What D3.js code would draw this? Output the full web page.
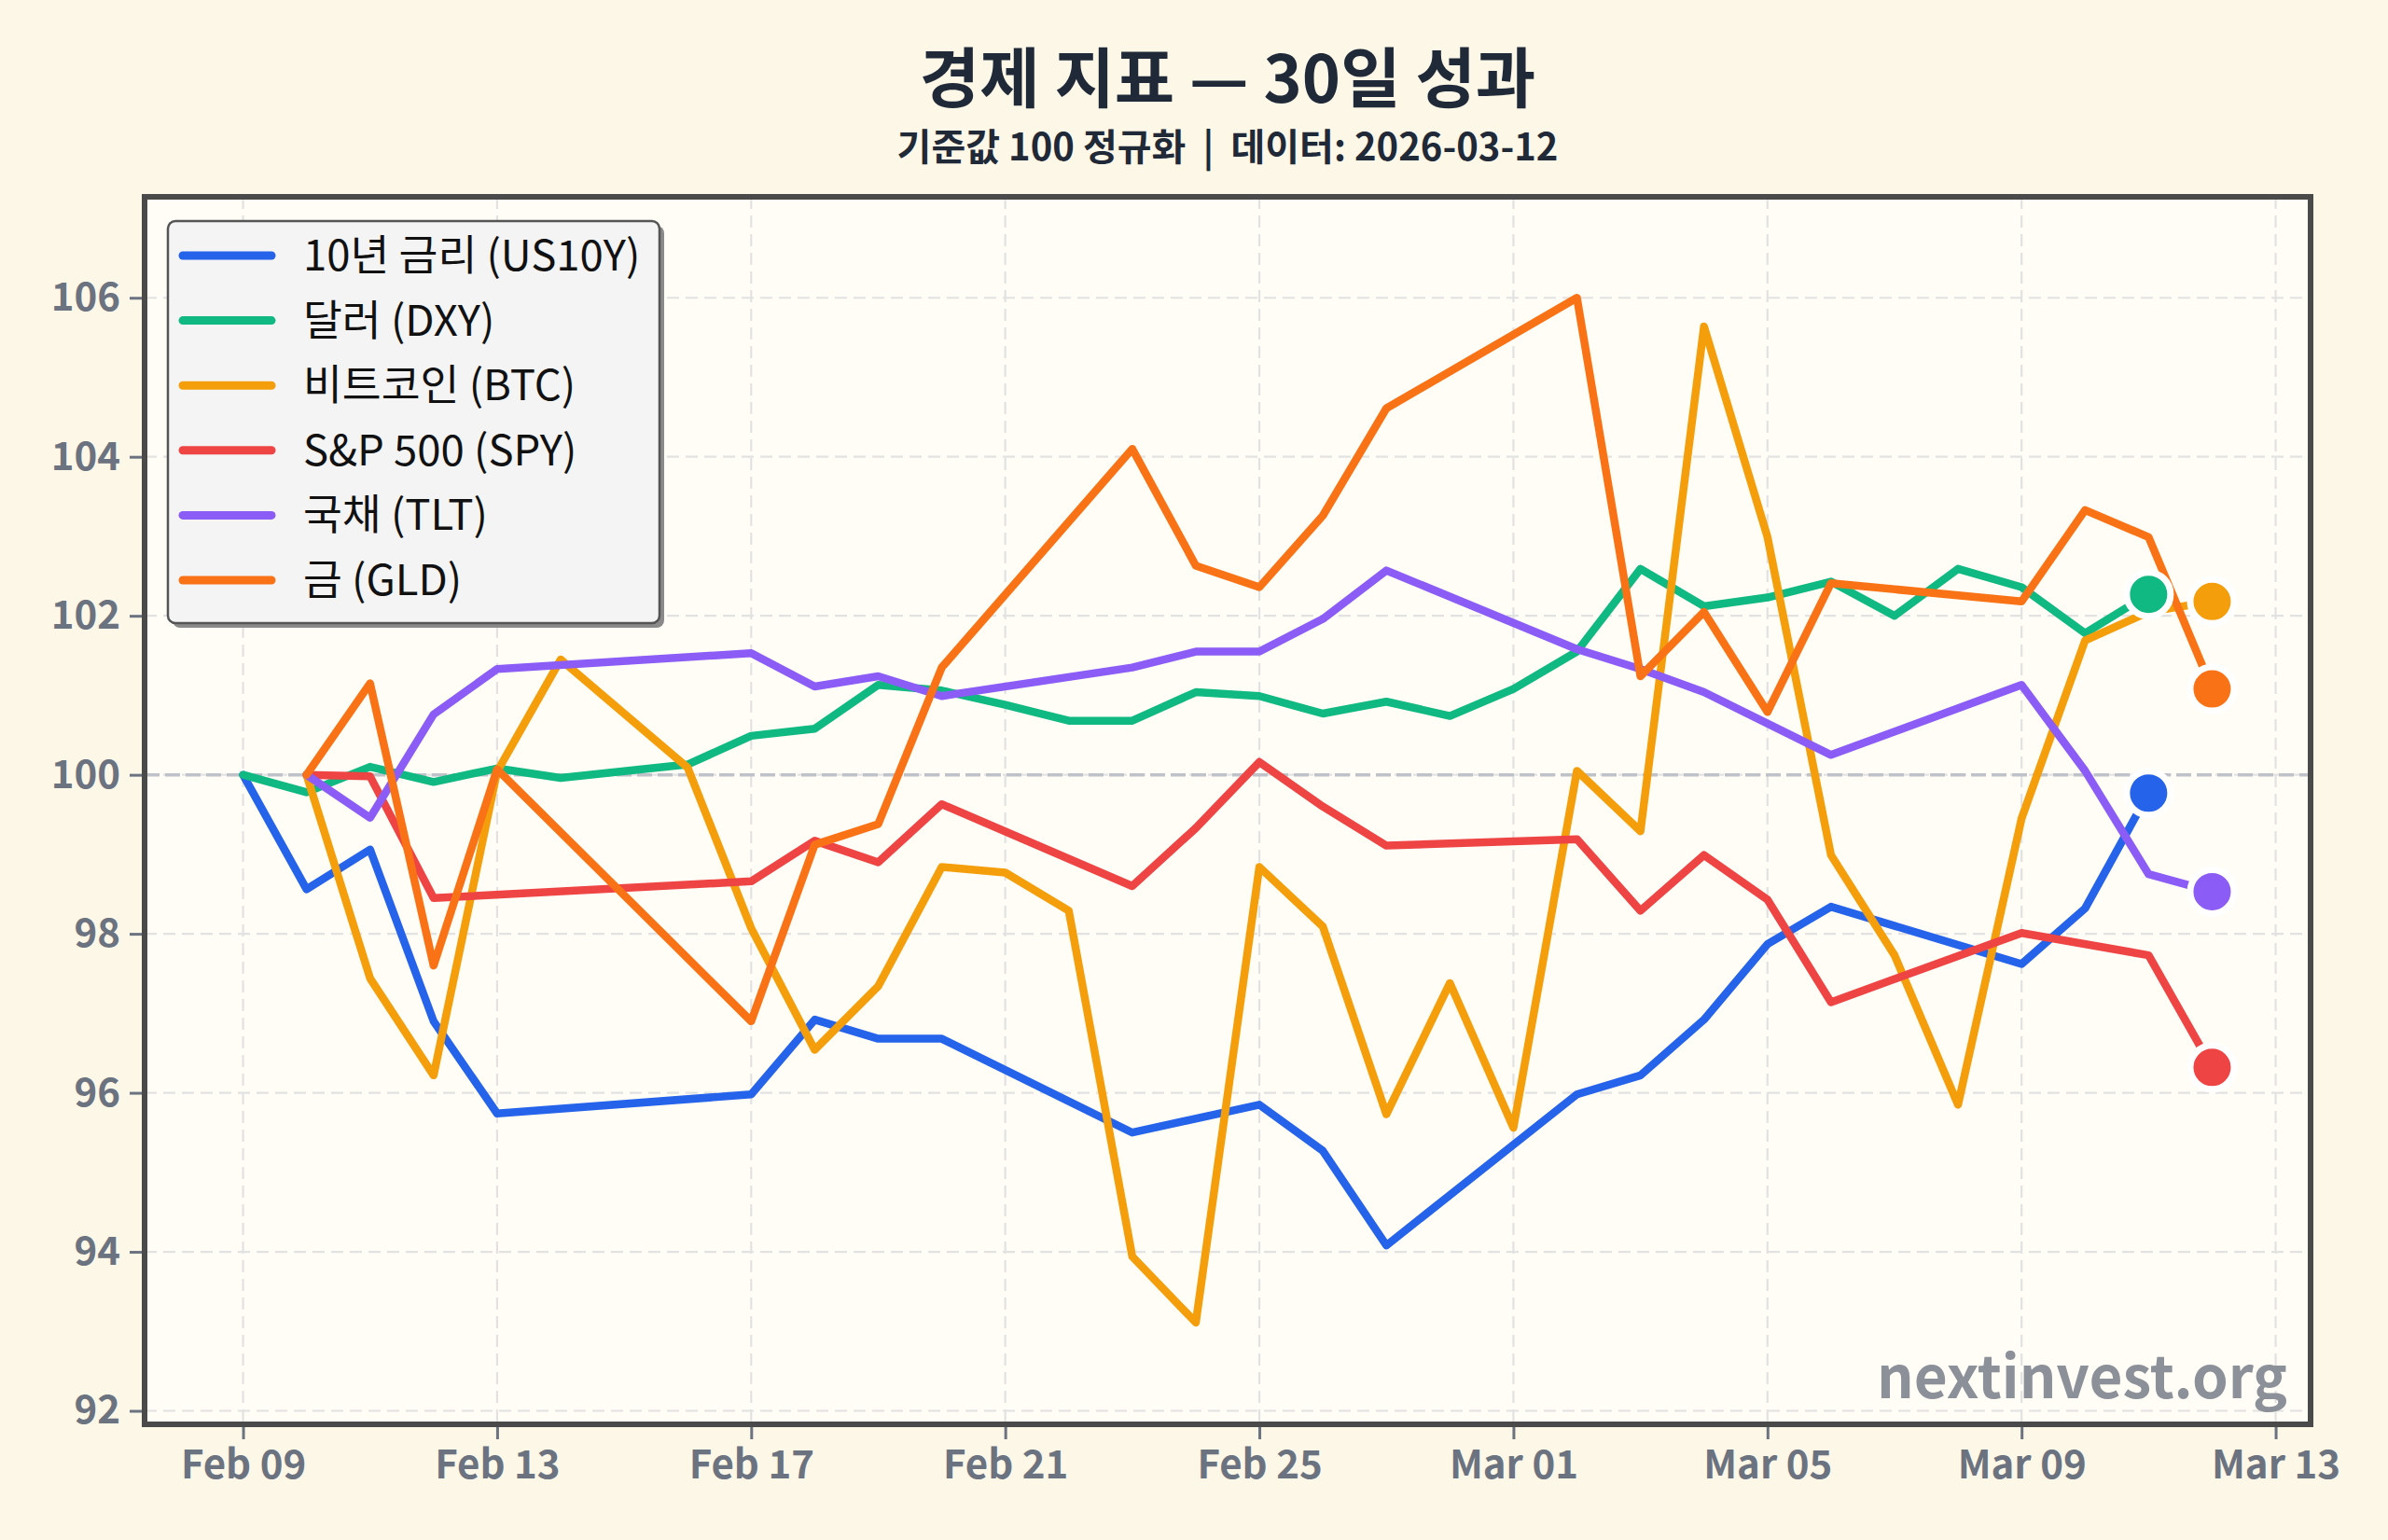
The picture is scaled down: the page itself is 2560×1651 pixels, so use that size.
<!DOCTYPE html>
<html>
<head>
<meta charset="utf-8">
<script src="https://d3js.org/d3.v7.min.js"></script>
<style>
body { margin: 0; background: #fdf7e7; }
text { font-family: "Noto Sans CJK KR", "Noto Sans", sans-serif; }
</style>
</head>
<body>
<script>
// economic indicators, normalised to 100

var us10yDates = ["02-09","02-10","02-11","02-12","02-13","02-17","02-18","02-19","02-20","02-23","02-25","02-26","02-27","03-02","03-03","03-04","03-05","03-06","03-09","03-10","03-11"];
var us10yValues = [100, 98.56, 99.06, 96.9, 95.74, 95.98, 96.92, 96.68, 96.68, 95.5, 95.85, 95.27, 94.08, 95.98, 96.22, 96.92, 97.87, 98.34, 97.62, 98.32, 99.77];

var dxyDates = ["02-09","02-10","02-11","02-12","02-13","02-14","02-16","02-17","02-18","02-19","02-20","02-21","02-22","02-23","02-24","02-25","02-26","02-27","02-28","03-01","03-02","03-03","03-04","03-05","03-06","03-07","03-08","03-09","03-10","03-11"];
var dxyValues = [100, 99.78, 100.1, 99.91, 100.08, 99.96, 100.13, 100.49, 100.58, 101.13, 101.06, 100.88, 100.68, 100.68, 101.04, 100.99, 100.77, 100.92, 100.74, 101.08, 101.55, 102.59, 102.12, 102.23, 102.43, 102.0, 102.59, 102.36, 101.78, 102.27];

var btcDates = ["02-10","02-11","02-12","02-13","02-14","02-16","02-17","02-18","02-19","02-20","02-21","02-22","02-23","02-24","02-25","02-26","02-27","02-28","03-01","03-02","03-03","03-04","03-05","03-06","03-07","03-08","03-09","03-10","03-11","03-12"];
var btcValues = [100, 97.44, 96.22, 100.04, 101.45, 100.09, 98.07, 96.54, 97.34, 98.84, 98.77, 98.29, 93.94, 93.11, 98.84, 98.09, 95.73, 97.38, 95.56, 100.05, 99.29, 105.64, 102.99, 98.99, 97.73, 95.85, 99.45, 101.69, 102.05, 102.18];

var spyDates = ["02-10","02-11","02-12","02-17","02-18","02-19","02-20","02-23","02-24","02-25","02-26","02-27","03-02","03-03","03-04","03-05","03-06","03-09","03-11","03-12"];
var spyValues = [100, 99.98, 98.45, 98.66, 99.17, 98.9, 99.63, 98.6, 99.33, 100.16, 99.6, 99.11, 99.19, 98.29, 98.99, 98.43, 97.14, 98.01, 97.73, 96.32];

var tltDates = ["02-10","02-11","02-12","02-13","02-17","02-18","02-19","02-20","02-23","02-24","02-25","02-26","02-27","03-02","03-03","03-04","03-06","03-09","03-10","03-11","03-12"];
var tltValues = [100, 99.46, 100.76, 101.33, 101.53, 101.11, 101.24, 100.99, 101.35, 101.55, 101.55, 101.96, 102.57, 101.58, 101.33, 101.04, 100.25, 101.13, 100.05, 98.75, 98.53];

var gldDates = ["02-10","02-11","02-12","02-13","02-17","02-18","02-19","02-20","02-23","02-24","02-25","02-26","02-27","03-02","03-03","03-04","03-05","03-06","03-09","03-10","03-11","03-12"];
var gldValues = [100, 101.15, 97.6, 100.07, 96.9, 99.12, 99.38, 101.35, 104.1, 102.63, 102.36, 103.26, 104.61, 106.0, 101.24, 102.05, 100.79, 102.41, 102.18, 103.33, 102.99, 101.08];

var seriesNames = ["10년 금리 (US10Y)", "달러 (DXY)", "비트코인 (BTC)", "S&P 500 (SPY)", "국채 (TLT)", "금 (GLD)"];
var seriesColors = ["#2563eb", "#10b981", "#f59e0b", "#ef4444", "#8b5cf6", "#f97316"];

var xTickDates = ["02-09","02-13","02-17","02-21","02-25","03-01","03-05","03-09","03-13"];
var yTickValues = [92, 94, 96, 98, 100, 102, 104, 106];

var titleText = "경제 지표 — 30일 성과";
var subtitleText = "기준값 100 정규화  |  데이터: 2026-03-12";
var watermarkText = "nextinvest.org";

// helpers
var parseDay = function(s){ return new Date(Date.UTC(2026, +s.slice(0,2) - 1, +s.slice(3,5))); };

var allDates = [us10yDates, dxyDates, btcDates, spyDates, tltDates, gldDates];
var allValues = [us10yValues, dxyValues, btcValues, spyValues, tltValues, gldValues];
var series = seriesNames.map(function(n, i){
  return {
    name: n,
    color: seriesColors[i],
    points: allDates[i].map(function(d, j){ return {date: parseDay(d), value: allValues[i][j]}; })
  };
});

var W = 2560, H = 1651;
var plot = {left: 155, top: 211, right: 2477, bottom: 1527};

var svg = d3.select("body").append("svg")
  .attr("width", W)
  .attr("height", H)
  .style("display", "block");

svg.append("rect").attr("width", W).attr("height", H).attr("fill", "#fdf7e7");

// scales (5% padding on x like the original)
var first = parseDay("02-09"), last = parseDay("03-12");
var xPad = (last - first) * 0.05;
var x = d3.scaleUtc()
  .domain([new Date(+first - xPad), new Date(+last + xPad)])
  .range([plot.left, plot.right]);
var y = d3.scaleLinear()
  .domain([91.83, 107.27])
  .range([plot.bottom, plot.top]);

// plot background
svg.append("rect")
  .attr("x", plot.left).attr("y", plot.top)
  .attr("width", plot.right - plot.left).attr("height", plot.bottom - plot.top)
  .attr("fill", "#fffdf6");

svg.append("clipPath").attr("id", "clip")
  .append("rect")
  .attr("x", plot.left).attr("y", plot.top)
  .attr("width", plot.right - plot.left).attr("height", plot.bottom - plot.top);

// grid
var grid = svg.append("g").attr("clip-path", "url(#clip)");
grid.selectAll(".vgrid")
  .data(xTickDates.map(parseDay))
  .enter().append("line")
  .attr("x1", function(d){ return x(d); }).attr("x2", function(d){ return x(d); })
  .attr("y1", plot.top).attr("y2", plot.bottom)
  .attr("stroke", "#e2e2e2").attr("stroke-width", 2.2).attr("stroke-dasharray", "13,7");
grid.selectAll(".hgrid")
  .data(yTickValues)
  .enter().append("line")
  .attr("x1", plot.left).attr("x2", plot.right)
  .attr("y1", function(d){ return y(d); }).attr("y2", function(d){ return y(d); })
  .attr("stroke", "#e2e2e2").attr("stroke-width", 2.2).attr("stroke-dasharray", "13,7");

// baseline 100
grid.append("line")
  .attr("x1", plot.left).attr("x2", plot.right)
  .attr("y1", y(100)).attr("y2", y(100))
  .attr("stroke", "#bfc2c8").attr("stroke-width", 3.5).attr("stroke-dasharray", "16,6");

// lines
var line = d3.line()
  .x(function(d){ return x(d.date); })
  .y(function(d){ return y(d.value); });

var lines = svg.append("g").attr("clip-path", "url(#clip)");
lines.selectAll("path")
  .data(series)
  .enter().append("path")
  .attr("d", function(s){ return line(s.points); })
  .attr("fill", "none")
  .attr("stroke", function(s){ return s.color; })
  .attr("stroke-width", 8.5)
  .attr("stroke-linejoin", "round")
  .attr("stroke-linecap", "round");

// end markers
lines.selectAll("circle")
  .data(series)
  .enter().append("circle")
  .attr("cx", function(s){ return x(s.points[s.points.length-1].date); })
  .attr("cy", function(s){ return y(s.points[s.points.length-1].value); })
  .attr("r", 23.5)
  .attr("fill", function(s){ return s.color; })
  .attr("stroke", "white")
  .attr("stroke-width", 7);

// watermark
svg.append("text")
  .attr("x", 2452).attr("y", 1499)
  .attr("text-anchor", "end")
  .attr("font-size", 62).attr("font-weight", 700)
  .attr("fill", "#8b9099")
  .text(watermarkText);

// axes
var xAxis = d3.axisBottom(x)
  .tickValues(xTickDates.map(parseDay))
  .tickFormat(d3.utcFormat("%b %d"))
  .tickSize(16).tickPadding(12);
var gx = svg.append("g")
  .attr("transform", "translate(0," + plot.bottom + ")")
  .call(xAxis);

var yAxis = d3.axisLeft(y)
  .tickValues(yTickValues)
  .tickSize(16).tickPadding(10);
var gy = svg.append("g")
  .attr("transform", "translate(" + plot.left + ",0)")
  .call(yAxis);

[gx, gy].forEach(function(g){
  g.select(".domain").remove();
  g.selectAll(".tick line").attr("stroke", "#6b7280").attr("stroke-width", 3);
  g.selectAll(".tick text")
    .attr("fill", "#6b7280")
    .attr("font-size", 42)
    .attr("font-weight", 700)
    .style("font-family", '"Noto Sans CJK KR", sans-serif');
});

// frame
svg.append("rect")
  .attr("x", plot.left).attr("y", plot.top)
  .attr("width", plot.right - plot.left).attr("height", plot.bottom - plot.top)
  .attr("fill", "none")
  .attr("stroke", "#4a4a4a").attr("stroke-width", 6);

// legend
var legend = svg.append("g").attr("transform", "translate(180,237)");
legend.append("rect")
  .attr("x", 5).attr("y", 5).attr("width", 527).attr("height", 431).attr("rx", 8)
  .attr("fill", "#8a8a8a");
legend.append("rect")
  .attr("width", 527).attr("height", 431).attr("rx", 8)
  .attr("fill", "#f4f4f4")
  .attr("stroke", "#555").attr("stroke-width", 2.5);

var item = legend.selectAll(".item")
  .data(series)
  .enter().append("g")
  .attr("transform", function(d, i){ return "translate(0," + (37 + i * 69.6) + ")"; });
item.append("line")
  .attr("x1", 16).attr("x2", 111)
  .attr("stroke", function(d){ return d.color; })
  .attr("stroke-width", 9)
  .attr("stroke-linecap", "round");
item.append("text")
  .attr("x", 145).attr("y", 16)
  .attr("font-size", 45.5)
  .attr("fill", "#111")
  .text(function(d){ return d.name; });

// titles
var cx = (plot.left + plot.right) / 2;
svg.append("text")
  .attr("x", cx).attr("y", 110)
  .attr("text-anchor", "middle")
  .attr("font-size", 70).attr("font-weight", 700)
  .attr("fill", "#1f2937")
  .text(titleText);
svg.append("text")
  .attr("x", cx).attr("y", 172)
  .attr("text-anchor", "middle")
  .attr("font-size", 40).attr("font-weight", 700)
  .attr("fill", "#1f2937")
  .style("white-space", "pre")
  .text(subtitleText);
</script>
</body>
</html>
